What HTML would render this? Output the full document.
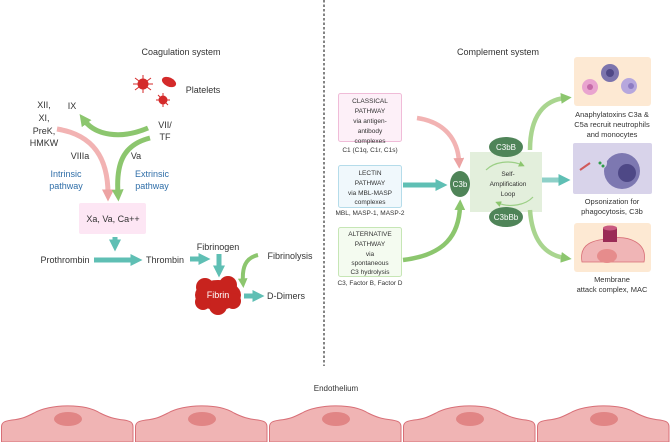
<!DOCTYPE html>
<html><head><meta charset="utf-8"><style>
html,body{margin:0;padding:0;background:#fff;}
svg{display:block;font-family:"Liberation Sans",sans-serif;}
</style></head><body>
<svg width="671" height="442" viewBox="0 0 671 442" xmlns="http://www.w3.org/2000/svg">
<defs>
<marker id="aT" viewBox="0 0 4 4" markerWidth="2.4" markerHeight="2.4" refX="1.5" refY="2" orient="auto" markerUnits="strokeWidth"><path d="M0,0 L4,2 L0,4 Z" fill="#5fbfb4"/></marker>
<marker id="aG" viewBox="0 0 4 4" markerWidth="2.4" markerHeight="2.4" refX="1.5" refY="2" orient="auto" markerUnits="strokeWidth"><path d="M0,0 L4,2 L0,4 Z" fill="#8cc66e"/></marker>
<marker id="aP" viewBox="0 0 4 4" markerWidth="2.4" markerHeight="2.4" refX="1.5" refY="2" orient="auto" markerUnits="strokeWidth"><path d="M0,0 L4,2 L0,4 Z" fill="#eca3a3"/></marker>
<marker id="aS" viewBox="0 0 4 4" markerWidth="5" markerHeight="5" refX="2" refY="2" orient="auto" markerUnits="strokeWidth"><path d="M0,0 L4,2 L0,4 Z" fill="#8cc66e"/></marker>
</defs>

<line x1="324" y1="0" x2="324" y2="366" stroke="#333" stroke-width="1.2" stroke-dasharray="2.5,2"/>

<g font-size="9" fill="#333" text-anchor="middle">
<text x="181" y="55">Coagulation system</text>
<text x="203" y="93">Platelets</text>
<text x="44" y="108">XII,</text>
<text x="44" y="121">XI,</text>
<text x="44" y="134">PreK,</text>
<text x="44" y="146">HMKW</text>
<text x="72" y="109">IX</text>
<text x="165" y="128">VII/</text>
<text x="165" y="140">TF</text>
<text x="80" y="159">VIIIa</text>
<text x="136" y="159">Va</text>
<text x="66" y="177" fill="#2f6ea8">Intrinsic</text>
<text x="66" y="189" fill="#2f6ea8">pathway</text>
<text x="152" y="177" fill="#2f6ea8">Extrinsic</text>
<text x="152" y="189" fill="#2f6ea8">pathway</text>
</g>
<g fill="#d42a2a" stroke="#d42a2a">
<circle cx="143" cy="84" r="5"/>
<g stroke-width="1"><line x1="135" y1="78" x2="151" y2="90"/><line x1="151" y1="78" x2="135" y2="90"/><line x1="143" y1="75" x2="143" y2="93"/><line x1="133" y1="84" x2="153" y2="84"/></g>
<ellipse cx="169" cy="82" rx="7" ry="4" transform="rotate(25 169 82)"/>
<circle cx="163" cy="100" r="4"/>
<g stroke-width="1"><line x1="156" y1="100" x2="170" y2="100"/><line x1="163" y1="93" x2="163" y2="107"/><line x1="158" y1="95" x2="168" y2="105"/></g>
</g>
<path d="M57,129 C95,135 108,160 108,194" fill="none" stroke="#f2b3b3" stroke-width="5" marker-end="url(#aP)"/>
<path d="M148,128 C120,140 95,135 84,120" fill="none" stroke="#8cc66e" stroke-width="5" marker-end="url(#aG)"/>
<path d="M150,138 C122,145 116,165 118,194" fill="none" stroke="#8cc66e" stroke-width="5" marker-end="url(#aG)"/>
<rect x="79" y="203" width="67" height="31" rx="2" fill="#fde6f4"/>
<text x="113" y="222" font-size="9" fill="#333" text-anchor="middle">Xa, Va, Ca++</text>
<path d="M115,237 L115,244" stroke="#5fbfb4" stroke-width="5" marker-end="url(#aT)"/>
<text x="65" y="263" font-size="9" fill="#333" text-anchor="middle">Prothrombin</text>
<path d="M94,260 L135,260" stroke="#5fbfb4" stroke-width="5" marker-end="url(#aT)"/>
<text x="165" y="263" font-size="9" fill="#333" text-anchor="middle">Thrombin</text>
<path d="M190,259 L203,259" stroke="#5fbfb4" stroke-width="5" marker-end="url(#aT)"/>
<text x="218" y="250" font-size="9" fill="#333" text-anchor="middle">Fibrinogen</text>
<path d="M219,254 L219,270" stroke="#5fbfb4" stroke-width="5" marker-end="url(#aT)"/>
<text x="290" y="259" font-size="9" fill="#333" text-anchor="middle">Fibrinolysis</text>
<path d="M258,255 C245,258 242,268 243,282" fill="none" stroke="#8cc66e" stroke-width="4" marker-end="url(#aG)"/>
<g fill="#c8231e">
<ellipse cx="218" cy="295" rx="23" ry="15"/>
<circle cx="205" cy="287" r="9"/><circle cx="228" cy="285" r="9"/><circle cx="218" cy="306" r="9"/>
<circle cx="203" cy="302" r="8"/><circle cx="233" cy="301" r="8"/>
</g>
<text x="218" y="298" font-size="9" fill="#fff" text-anchor="middle">Fibrin</text>
<path d="M244,296 L257,296" stroke="#5fbfb4" stroke-width="5" marker-end="url(#aT)"/>
<text x="286" y="299" font-size="9" fill="#333" text-anchor="middle">D-Dimers</text>

<text x="498" y="55" font-size="9" fill="#333" text-anchor="middle">Complement system</text>
<rect x="338.5" y="93.5" width="63" height="48" rx="2" fill="#fdf0f8" stroke="#f0bcd8"/>
<g font-size="6.5" fill="#333" text-anchor="middle">
<text x="370" y="103">CLASSICAL</text><text x="370" y="113">PATHWAY</text><text x="370" y="123">via antigen-</text><text x="370" y="133">antibody</text><text x="370" y="143">complexes</text>
<text x="370" y="152">C1 (C1q, C1r, C1s)</text>
</g>
<rect x="338.5" y="165.5" width="63" height="42" rx="2" fill="#f0f8fc" stroke="#b5dcea"/>
<g font-size="6.5" fill="#333" text-anchor="middle">
<text x="370" y="175">LECTIN</text><text x="370" y="185">PATHWAY</text><text x="370" y="195">via MBL-MASP</text><text x="370" y="204">complexes</text>
<text x="370" y="215">MBL, MASP-1, MASP-2</text>
</g>
<rect x="338.5" y="227.5" width="63" height="49" rx="2" fill="#f4fbf0" stroke="#c6e6b5"/>
<g font-size="6.5" fill="#333" text-anchor="middle">
<text x="370" y="236">ALTERNATIVE</text><text x="370" y="246">PATHWAY</text><text x="370" y="256">via</text><text x="370" y="265">spontaneous</text><text x="370" y="274">C3 hydrolysis</text>
<text x="370" y="285">C3, Factor B, Factor D</text>
</g>
<path d="M417,118 C445,122 458,140 459,162" fill="none" stroke="#f2b3b3" stroke-width="4.5" marker-end="url(#aP)"/>
<path d="M403,185 L440,185" stroke="#5fbfb4" stroke-width="5" marker-end="url(#aT)"/>
<path d="M403,260 C445,255 459,235 460,206" fill="none" stroke="#8cc66e" stroke-width="4.5" marker-end="url(#aG)"/>
<rect x="470" y="152" width="72" height="60" fill="#e3efdc"/>
<path d="M530,150 C530,115 545,100 565,98" fill="none" stroke="#a9d58f" stroke-width="4.5" marker-end="url(#aG)"/>
<path d="M542,180 L563,180" stroke="#8ed0c8" stroke-width="5" marker-end="url(#aT)"/>
<path d="M530,210 C532,240 545,255 565,258" fill="none" stroke="#a9d58f" stroke-width="4.5" marker-end="url(#aG)"/>
<path d="M486,170 A26,18 0 0 1 522,165" fill="none" stroke="#9ccf86" stroke-width="1.2" marker-end="url(#aS)"/>
<path d="M533,197 A26,18 0 0 1 498,203" fill="none" stroke="#9ccf86" stroke-width="1.2" marker-end="url(#aS)"/>
<g font-size="6.5" fill="#333" text-anchor="middle">
<text x="508" y="176">Self-</text><text x="508" y="186">Amplification</text><text x="508" y="196">Loop</text>
</g>
<ellipse cx="460" cy="184" rx="10" ry="13" fill="#4f8458"/>
<text x="460" y="187" font-size="8" fill="#fff" text-anchor="middle">C3b</text>
<ellipse cx="506" cy="147" rx="17" ry="10" fill="#4f8458"/>
<text x="506" y="150" font-size="8" fill="#fff" text-anchor="middle">C3bB</text>
<ellipse cx="506" cy="217" rx="17" ry="10" fill="#4f8458"/>
<text x="506" y="220" font-size="8" fill="#fff" text-anchor="middle">C3bBb</text>

<rect x="574" y="57" width="77" height="49" rx="3" fill="#fde9d3"/>
<circle cx="590" cy="87" r="8" fill="#e9a4cf"/><circle cx="590" cy="87" r="3" fill="#c56aa8"/>
<circle cx="610" cy="73" r="9" fill="#7c74ad"/><circle cx="610" cy="73" r="4" fill="#4f4886"/>
<circle cx="629" cy="86" r="8" fill="#b6a7dd"/><circle cx="631" cy="86" r="3" fill="#8d7cc2"/>
<g font-size="7.5" fill="#333" text-anchor="middle">
<text x="612" y="117">Anaphylatoxins C3a &amp;</text><text x="612" y="127">C5a recruit neutrophils</text><text x="612" y="137">and monocytes</text>
</g>
<rect x="573" y="143" width="79" height="51" rx="2" fill="#d8d3ea"/>
<circle cx="622" cy="171" r="18" fill="#7d78b1"/><circle cx="627" cy="173" r="9" fill="#4e4886"/>
<circle cx="601" cy="163" r="6" fill="#d8d3ea"/><circle cx="600" cy="163" r="1.5" fill="#2f9c4a"/><circle cx="603" cy="166" r="1.5" fill="#2f9c4a"/>
<line x1="580" y1="170" x2="590" y2="163" stroke="#d05a5a" stroke-width="2"/>
<g font-size="7.5" fill="#333" text-anchor="middle">
<text x="612" y="204">Opsonization for</text><text x="612" y="214">phagocytosis, C3b</text>
</g>
<rect x="574" y="223" width="77" height="49" rx="3" fill="#fde9d3"/>
<path d="M582,262 C578,240 600,240 612,238 C628,236 648,242 644,262 Z" fill="#f0b5b6" stroke="#d86f77" stroke-width="0.8"/>
<ellipse cx="607" cy="256" rx="10" ry="7" fill="#e68c8c"/>
<rect x="603" y="228" width="14" height="14" fill="#9a2c56"/><ellipse cx="610" cy="228" rx="7" ry="2.5" fill="#c95a80"/>
<g font-size="7.5" fill="#333" text-anchor="middle">
<text x="612" y="282">Membrane</text><text x="612" y="292">attack complex, MAC</text>
</g>

<text x="336" y="391" font-size="8" fill="#333" text-anchor="middle">Endothelium</text>
<g fill="#f0b4b4" stroke="#d86f77" stroke-width="1">
<path id="cell" d="M1.5,442 L1.5,427 C1.5,422 5,421 12,420 C22,419 26,417 34,413 C50,404 84,403 100,413 C108,417 114,419 124,420 C130,421 133,422 133,427 L133,442 Z"/>
<use href="#cell" x="134"/><use href="#cell" x="268"/><use href="#cell" x="402"/><use href="#cell" x="536"/>
</g>
<g fill="#e18585">
<ellipse cx="68" cy="419" rx="14" ry="7"/><ellipse cx="202" cy="419" rx="14" ry="7"/><ellipse cx="336" cy="419" rx="14" ry="7"/><ellipse cx="470" cy="419" rx="14" ry="7"/><ellipse cx="604" cy="419" rx="14" ry="7"/>
</g>
</svg>
</body></html>
